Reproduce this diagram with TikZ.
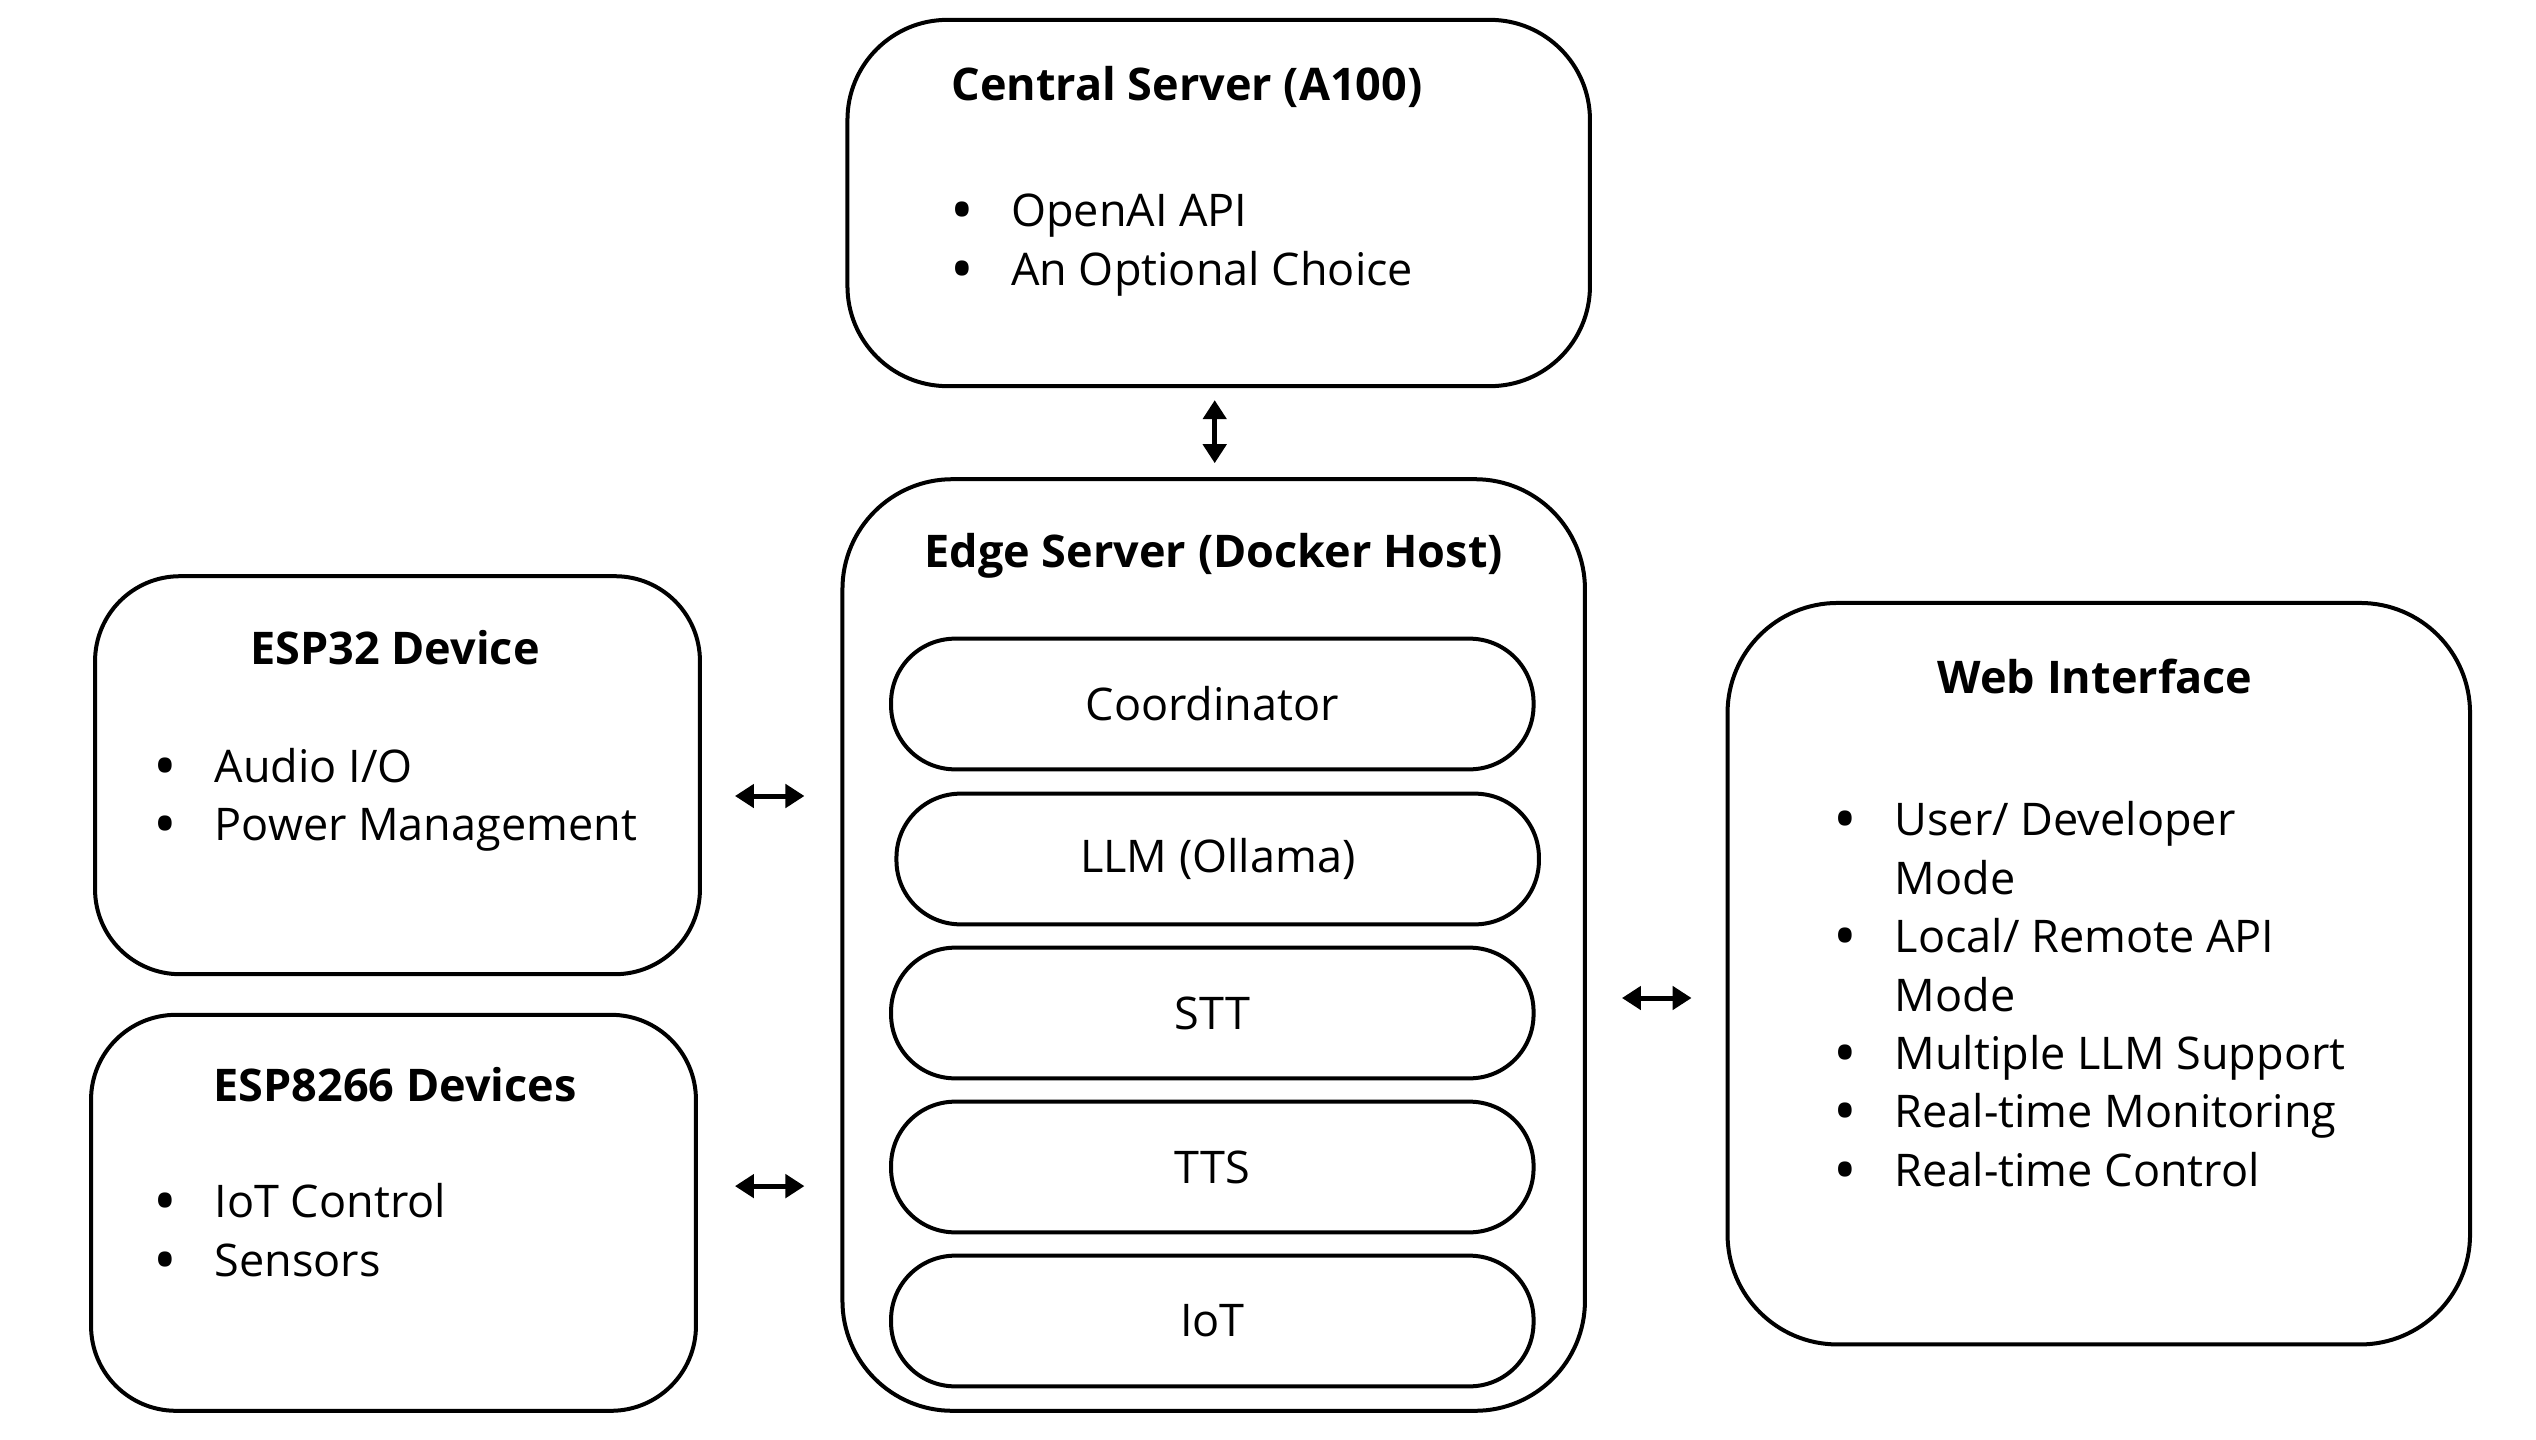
\documentclass[tikz,border=0pt]{standalone}
\usepackage{fontspec}
\setmainfont{Open Sans}
\usetikzlibrary{arrows.meta,positioning,calc}
\usepackage{xcolor}

\newcommand{\bul}[1]{\makebox[61pt][l]{\raisebox{-6pt}{\scalebox{1.4}{\textbullet}}}#1}
\newcommand{\cont}[1]{\hspace*{61pt}#1}

\tikzset{
  box/.style={draw,line width=4pt,rounded corners=#1,inner sep=0pt},
  box/.default=100pt,
  pill/.style={draw,line width=4pt,rounded corners=64pt,minimum width=642.5pt,minimum height=130.7pt,inner sep=0pt,font=\fontsize{45}{58.4}\selectfont},
  title/.style={font=\fontsize{45}{58.4}\selectfont\bfseries,inner sep=0pt},
  items/.style={font=\fontsize{45}{58.4}\selectfont,align=left,anchor=west,inner sep=0pt},
  biarrow/.style={{Triangle[length=19pt,width=23pt]}-{Triangle[length=19pt,width=23pt]},line width=5pt}
}

\begin{document}
\begin{tikzpicture}[x=1pt,y=-1pt]
	\useasboundingbox (0,0) rectangle (2536,1440);
	% central server
	\node[box=100pt,minimum width=742.5pt,minimum height=366.3pt] (central) at (1218.7,203) {};
	\node[title] (ctitle) at (1187,87) {Central Server (A100)};
	\node[items] (clist) at (950,245) {\bul{OpenAI API}\\\bul{An Optional Choice}};
	% edge server
	\node[box=110pt,minimum width=742.5pt,minimum height=931.6pt] (edge) at (1213.7,945) {};
	\node[title] (etitle) at (1213.7,556) {Edge Server (Docker Host)};
	\node[pill] (coord) at (1212.3,704) {Coordinator};
	\node[pill] (llm) at (1217.7,859) {LLM (Ollama)};
	\node[pill] (stt) at (1212.3,1013) {STT};
	\node[pill] (tts) at (1212.3,1167) {TTS};
	\node[pill] (iot) at (1212.3,1321) {IoT};
	% devices
	\node[box=85pt,minimum width=604.9pt,minimum height=398pt] (esp32) at (397.5,775.2) {};
	\node[title] (e32title) at (395,648) {ESP32 Device};
	\node[items] (e32list) at (153.5,800) {\bul{Audio I/O}\\\bul{Power Management}};
	\node[box=85pt,minimum width=604.9pt,minimum height=396pt] (esp8266) at (393.5,1212.8) {};
	\node[title] (e8title) at (395,1085) {ESP8266 Devices};
	\node[items] (e8list) at (153.5,1233) {\bul{IoT Control}\\\bul{Sensors}};
	% web interface
	\node[box=110pt,minimum width=742.5pt,minimum height=741.5pt] (web) at (2098.8,973.7) {};
	\node[title] (wtitle) at (2095,676) {Web Interface};
	\node[items] (wlist) at (1833.5,997) {\bul{User/ Developer}\\\cont{Mode}\\\bul{Local/ Remote API}\\\cont{Mode}\\\bul{Multiple LLM Support}\\\bul{Real-time Monitoring}\\\bul{Real-time Control}};
	% links
	\draw[biarrow,shorten <=12pt,shorten >=14pt] ([xshift=-4pt]central.south) -- ([xshift=-4pt]central.south |- edge.north);
	\draw[biarrow,shorten <=33pt,shorten >=36pt] ([yshift=-20.8pt]esp32.east) -- ([yshift=-20.8pt]esp32.east -| edge.west);
	\draw[biarrow,shorten <=37pt,shorten >=36pt] ([yshift=26.7pt]esp8266.east) -- ([yshift=26.7pt]esp8266.east -| edge.west);
	\draw[biarrow,shorten <=35pt,shorten >=34pt] ([yshift=-24.3pt]web.west -| edge.east) -- ([yshift=-24.3pt]web.west);
\end{tikzpicture}
\end{document}
